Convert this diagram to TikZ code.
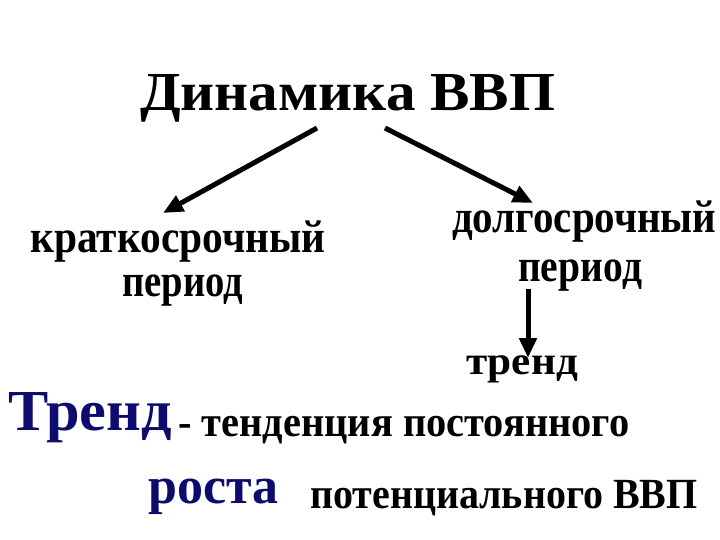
\documentclass[tikz,border=0pt]{standalone}
\usepackage{fontspec}
\setmainfont{Liberation Serif}
\usetikzlibrary{arrows.meta}
\definecolor{navy}{RGB}{12,12,110}
\newcommand{\tx}[3]{\fontsize{#1}{#1}\selectfont\bfseries\scalebox{#2}[1]{#3}}
\tikzset{
  lbl/.style={inner sep=0pt, anchor=base west},
  arr/.style={line width=5pt, -{Triangle[length=20pt,width=17pt]}}
}
\begin{document}
\begin{tikzpicture}[x=1pt,y=-1pt]
\useasboundingbox (0,0) rectangle (720,540);
\node[lbl] (title) at (140,111) {\tx{55}{1.075}{Динамика ВВП}};
\node[lbl] (ks1) at (30,252) {\tx{46}{0.9}{краткосрочный}};
\node[lbl] (ks2) at (122,296) {\tx{46}{0.84}{период}};
\node[lbl] (dl1) at (452,233) {\tx{46}{0.89}{долгосрочный}};
\node[lbl] (dl2) at (518,281) {\tx{46}{0.86}{период}};
\node[lbl] (tr) at (466,374) {\tx{40}{1.08}{тренд}};
\node[lbl,text=navy] (Tr) at (8,430) {\tx{58}{1.04}{Тренд}};
\node[lbl] (def1) at (178,436) {\tx{43}{0.94}{- тенденция постоянного}};
\node[lbl,text=navy] (ro) at (148,503) {\tx{52}{1.0}{роста}};
\node[lbl] (def2) at (310,508) {\tx{43}{0.93}{потенциального ВВП}};
\coordinate (a1s) at (317,128);
\coordinate (a1e) at (163,213);
\coordinate (a2s) at (385,128);
\coordinate (a2e) at (533,203);
\coordinate (a3s) at (528,289);
\coordinate (a3e) at (528,358);
\draw[arr] (a1s) -- (a1e);
\draw[arr] (a2s) -- (a2e);
\draw[arr] (a3s) -- (a3e);
\end{tikzpicture}
\end{document}
